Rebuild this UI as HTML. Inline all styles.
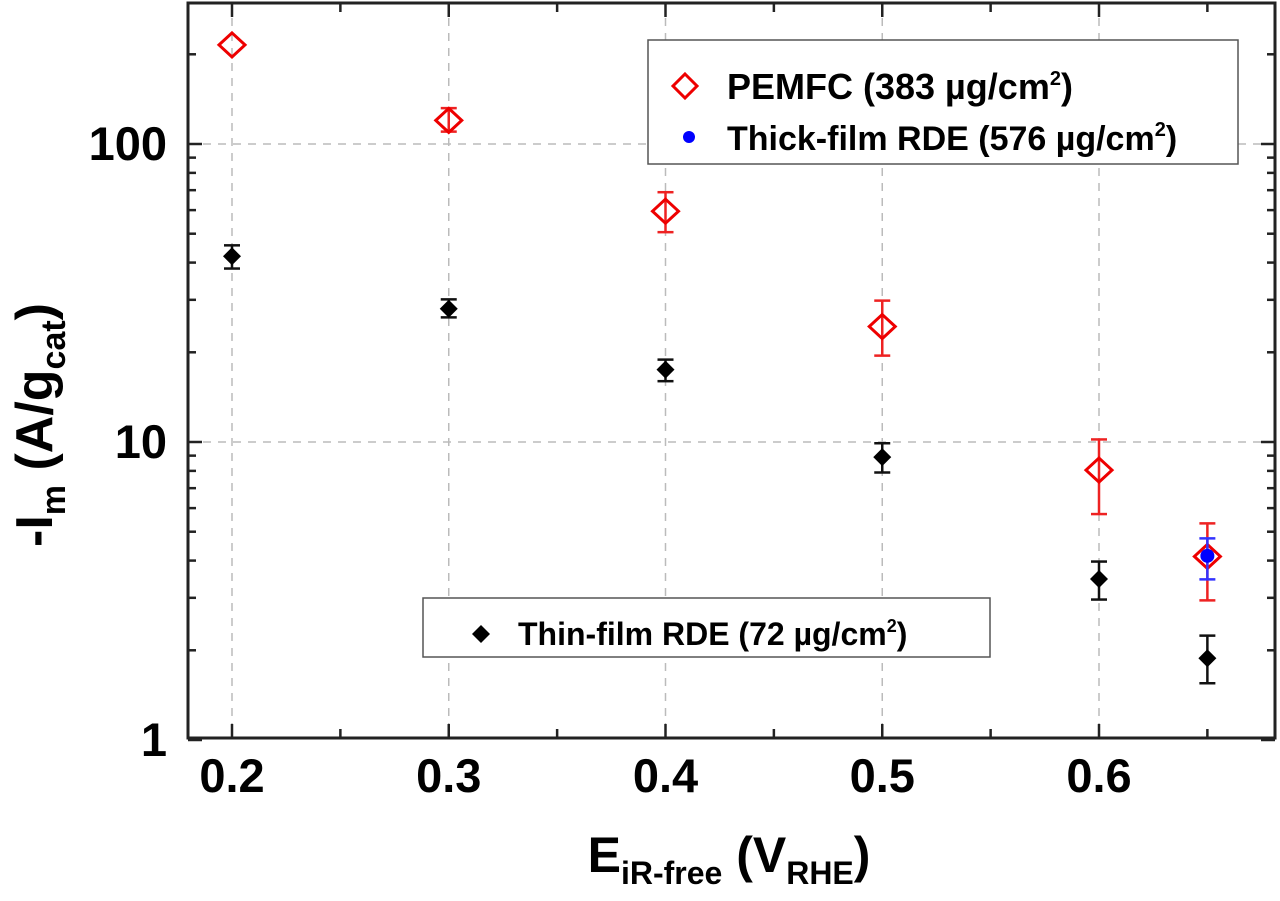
<!DOCTYPE html>
<html><head><meta charset="utf-8"><style>
html,body{margin:0;padding:0;background:#fff;}
svg{display:block;font-family:"Liberation Sans",Arial,sans-serif;}
</style></head><body>
<svg id="chart" width="1280" height="901" viewBox="0 0 1280 901" xmlns="http://www.w3.org/2000/svg">
<g id="grid"></g>
<g id="axes"></g>
<g id="marks"></g>
<g id="legend1">
  <rect x="648" y="40" width="590" height="124" fill="#fff" stroke="#555" stroke-width="1.5"/>
  <path d="M685 74 L697 86 L685 98 L673 86 Z" fill="none" stroke="#e00" stroke-width="3"/>
  <text x="727" y="99" font-size="36" font-weight="bold">PEMFC (383 µg/cm<tspan dy="-14" font-size="20">2</tspan><tspan dy="14">)</tspan></text>
  <circle cx="689" cy="137" r="6" fill="#00f"/>
  <text x="727" y="150" font-size="34" font-weight="bold">Thick-film RDE (576 µg/cm<tspan dy="-14" font-size="20">2</tspan><tspan dy="14">)</tspan></text>
</g>
<g id="legend2">
  <rect x="423" y="598" width="567" height="59" fill="#fff" stroke="#555" stroke-width="1.5"/>
  <path d="M481 625 L490 634 L481 643 L472 634 Z" fill="#000"/>
  <text x="518" y="645" font-size="32" font-weight="bold">Thin-film RDE (72 µg/cm<tspan dy="-13" font-size="18">2</tspan><tspan dy="13">)</tspan></text>
</g>
<text x="0" y="0" transform="translate(52,425) rotate(-90)" text-anchor="middle" font-size="52" font-weight="bold">-I<tspan dy="13" font-size="34">m</tspan><tspan dy="-13"> (A/g</tspan><tspan dy="13" font-size="34">cat</tspan><tspan dy="-13">)</tspan></text>
<text x="729" y="872" text-anchor="middle" font-size="50" font-weight="bold">E<tspan dy="12" font-size="32">iR-free</tspan><tspan dy="-12"> (V</tspan><tspan dy="12" font-size="32">RHE</tspan><tspan dy="-12">)</tspan></text>
</svg>
<script>
const xTicks=[0.2,0.3,0.4,0.5,0.6];
const yTicks=[1,10,100];
const xVals=[0.2,0.3,0.4,0.5,0.6,0.65];
const pemfc=[215,120,59.5,24.4,8.05,4.13];
const pemfcLo=[215,110,50.6,19.5,5.73,2.94];
const pemfcHi=[215,132,68.9,29.8,10.2,5.33];
const thin=[42,28,17.5,8.9,3.47,1.88];
const thinLo=[38.2,26.2,16,7.9,2.96,1.55];
const thinHi=[45.7,30.1,18.9,9.9,3.97,2.24];
const thickX=[0.65];
const thick=[4.15];
const thickLo=[3.46];
const thickHi=[4.75];

const L=188,R=1275,T=3,B=738;
const xs=v=>232+(v-0.2)*2167.5;
const ys=v=>144-(Math.log10(v)-2)*298;
const NS='http://www.w3.org/2000/svg';
function mk(tag,attrs,parent){const e=document.createElementNS(NS,tag);for(const k in attrs)e.setAttribute(k,attrs[k]);parent.appendChild(e);return e;}
const grid=document.getElementById('grid'),axes=document.getElementById('axes'),marks=document.getElementById('marks');
xTicks.forEach(t=>{const l=mk('line',{x1:xs(t),x2:xs(t),y1:T,y2:B,stroke:'#bbb','stroke-width':1.5,'stroke-dasharray':'8,7'},grid);


const tx=mk('text',{x:xs(t),y:792,'text-anchor':'middle','font-size':47,'font-weight':'bold'},axes);tx.textContent=t.toFixed(1);

});
yTicks.forEach(t=>{if(t>1){const l=mk('line',{x1:L,x2:R,y1:ys(t),y2:ys(t),stroke:'#bbb','stroke-width':1.5,'stroke-dasharray':'8,7'},grid);

}
const tx=mk('text',{x:167,y:ys(t)+16,'text-anchor':'end','font-size':47,'font-weight':'bold'},axes);tx.textContent=String(t);

});
mk('rect',{x:L,y:T,width:R-L,height:B-T,fill:'none',stroke:'#222','stroke-width':3},axes);
for(let v=0.2;v<=0.651;v+=0.05){const X=xs(v);const len=Math.abs(v*10-Math.round(v*10))<0.01?14:9;
mk('line',{x1:X,x2:X,y1:B,y2:B-len,stroke:'#222','stroke-width':2.5},axes);
mk('line',{x1:X,x2:X,y1:T,y2:T+len,stroke:'#222','stroke-width':2.5},axes);}
for(let d=0;d<3;d++){for(let m=1;m<10;m++){const v=m*Math.pow(10,d);const Y=ys(v);if(Y<T)continue;const len=m===1?14:8;
mk('line',{x1:L,x2:L+len,y1:Y,y2:Y,stroke:'#222','stroke-width':2.5},axes);
mk('line',{x1:R,x2:R-len,y1:Y,y2:Y,stroke:'#222','stroke-width':2.5},axes);}}
function errbar(x,lo,hi,color,name){if(lo===hi)return;const X=xs(x);const g=mk('g',{stroke:color,'stroke-width':2.5},marks);


mk('line',{x1:X,x2:X,y1:ys(lo),y2:ys(hi)},g);mk('line',{x1:X-8,x2:X+8,y1:ys(lo),y2:ys(lo)},g);mk('line',{x1:X-8,x2:X+8,y1:ys(hi),y2:ys(hi)},g);}
xVals.forEach((x,i)=>{errbar(x,thinLo[i],thinHi[i],'#111','thin-film-errorbar');
const X=xs(x),Y=ys(thin[i]);const p=mk('path',{d:`M${X} ${Y-9}L${X+9} ${Y}L${X} ${Y+9}L${X-9} ${Y}Z`,fill:'#000'},marks);

});
xVals.forEach((x,i)=>{errbar(x,pemfcLo[i],pemfcHi[i],'#e22','pemfc-errorbar');
const X=xs(x),Y=ys(pemfc[i]);const p=mk('path',{d:`M${X} ${Y-12}L${X+13} ${Y}L${X} ${Y+12}L${X-13} ${Y}Z`,fill:'none',stroke:'#e00','stroke-width':3},marks);

});
thickX.forEach((x,i)=>{errbar(x,thickLo[i],thickHi[i],'#33f','thick-film-errorbar');
const c=mk('circle',{cx:xs(x),cy:ys(thick[i]),r:7,fill:'#00f'},marks);

});
</script>
</body></html>
